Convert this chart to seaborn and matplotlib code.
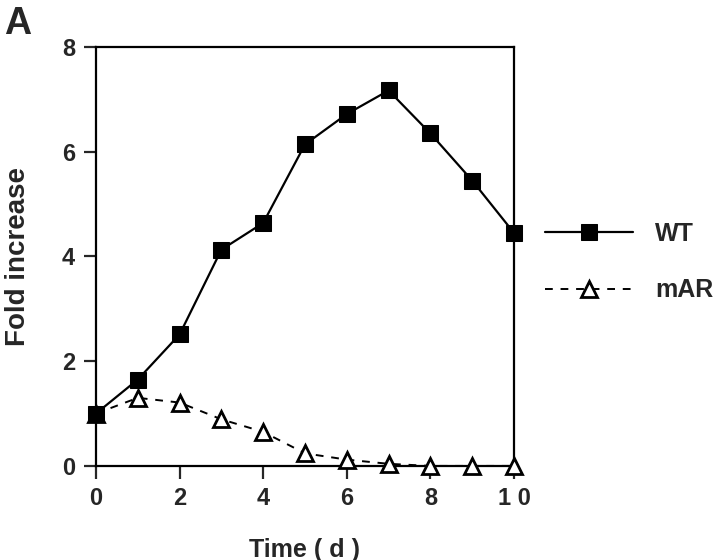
import pandas as pd
import matplotlib
matplotlib.use("Agg")
import matplotlib.pyplot as plt
import seaborn as sns

# Data
days = [0, 1, 2, 3, 4, 5, 6, 7, 8, 9, 10]
wt = [1.0, 1.65, 2.51, 4.13, 4.64, 6.14, 6.72, 7.17, 6.35, 5.45, 4.45]
mar = [1.0, 1.30, 1.21, 0.89, 0.65, 0.24, 0.12, 0.04, 0.0, 0.0, 0.0]

sns.set_style("ticks")
plt.rcParams['font.family'] = ['Liberation Sans', 'DejaVu Sans']
plt.rcParams['font.weight'] = 'bold'

df = pd.DataFrame({'Time': days, 'WT': wt, 'mAR': mar})

fig = plt.figure(figsize=(7.2, 5.6), dpi=100)
ax = fig.add_axes([0.1333, 0.168, 0.5806, 0.748])

sns.lineplot(data=df, x='Time', y='WT', ax=ax, color='black', lw=1.6,
             marker='s', markersize=11, markerfacecolor='black',
             markeredgecolor='black', label='WT', clip_on=False, zorder=4)
sns.lineplot(data=df, x='Time', y='mAR', ax=ax, color='black', lw=1.4,
             linestyle=(0, (4, 4)), marker='^', markersize=11,
             markerfacecolor='white', markeredgecolor='black',
             markeredgewidth=2, label='mAR', clip_on=False, zorder=3)

ax.set_xlim(0, 10)
ax.set_ylim(0, 8)
ax.set_xticks([0, 2, 4, 6, 8, 10])
ax.set_xticklabels(['0', '2', '4', '6', '8', '1 0'])
ax.set_yticks([0, 2, 4, 6, 8])
ax.tick_params(direction='out', length=9, width=1.6, labelsize=17, pad=6)
for lab in ax.get_xticklabels() + ax.get_yticklabels():
    lab.set_fontweight('bold')
for sp in ax.spines.values():
    sp.set_visible(True)
    sp.set_linewidth(1.6)
    sp.set_color('black')

ax.set_xlabel('Time ( d )', fontsize=18, fontweight='bold', labelpad=20)
ax.set_ylabel('Fold increase', fontsize=20, fontweight='bold', labelpad=22)

ax.legend(loc='center left', bbox_to_anchor=(0.757, 0.532),
          bbox_transform=fig.transFigure, frameon=False,
          handlelength=3.5, handletextpad=0.9, labelspacing=1.3,
          borderpad=0, borderaxespad=0,
          prop={'weight': 'bold', 'size': 18})

fig.text(0.006, 0.99, 'A', fontsize=27, fontweight='bold', va='top', ha='left')

fig.savefig('out.png', dpi=100)
